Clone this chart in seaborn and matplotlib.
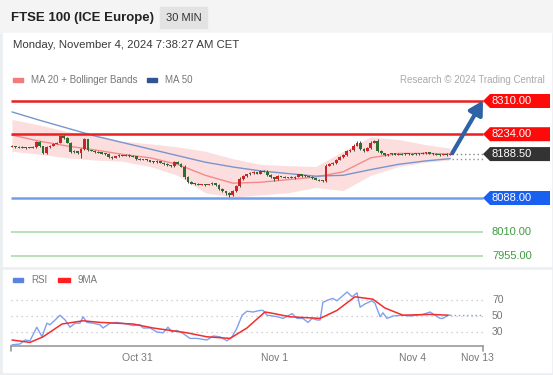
import matplotlib
matplotlib.use('Agg')
import matplotlib.pyplot as plt
from matplotlib.patches import Rectangle, Polygon
import seaborn as sns

sns.set_style('white')
plt.rcParams['font.family'] = ['Liberation Sans', 'DejaVu Sans']

# ---- data (30 min bars, Oct 30 -> Nov 4) ----
closes = [
    8207, 8205, 8204, 8204, 8203, 8204, 8205, 8216, 8206, 8191, 8204, 8208, 8212, 8215, 8230, 8226,
    8215, 8193, 8195, 8190, 8200, 8222, 8198, 8196, 8194, 8192, 8190, 8188, 8182, 8180, 8183, 8186,
    8185, 8187, 8184, 8183, 8178, 8176, 8177, 8174, 8171, 8170, 8172, 8169, 8165, 8163, 8162, 8170,
    8166, 8160, 8135, 8125, 8121, 8120, 8119, 8120, 8118, 8119, 8122, 8118, 8108, 8103, 8099, 8094,
    8104, 8115, 8132, 8138, 8142, 8145, 8147, 8144, 8150, 8148, 8141, 8136, 8131, 8138, 8137, 8135,
    8136, 8134, 8137, 8142, 8139, 8138, 8137, 8133, 8130, 8128, 8127, 8162, 8166, 8168, 8175, 8181,
    8186, 8195, 8198, 8208, 8214, 8200, 8196, 8202, 8215, 8218, 8196, 8190, 8186, 8188, 8190, 8187,
    8189, 8188, 8190, 8189, 8188, 8190, 8189, 8191, 8192, 8190, 8189, 8188, 8187, 8188, 8187, 8188.5,
]
first_open = 8206
wick_up = [
    2, 1, 1, 2, 1, 1, 2, 2, 3, 1, 2, 2, 1, 2, 3, 2,
    1, 2, 2, 1, 3, 4, 2, 1, 2, 1, 2, 1, 2, 1, 2, 2,
    1, 2, 1, 2, 1, 2, 1, 1, 2, 1, 2, 1, 1, 2, 1, 3,
    2, 1, 4, 3, 2, 1, 2, 1, 1, 2, 2, 1, 3, 2, 1, 2,
    3, 2, 3, 2, 2, 2, 3, 1, 2, 2, 3, 2, 1, 2, 1, 2,
    1, 2, 1, 2, 2, 1, 1, 2, 1, 1, 2, 3, 2, 2, 3, 2,
    2, 3, 2, 3, 4, 5, 3, 2, 3, 3, 4, 2, 2, 1, 2, 1,
    2, 1, 2, 1, 1, 2, 1, 2, 2, 1, 1, 2, 1, 1, 2, 1,
]
wick_dn = [
    1, 2, 1, 1, 2, 1, 1, 2, 2, 3, 2, 1, 2, 1, 2, 2,
    2, 3, 2, 1, 10, 2, 3, 1, 2, 1, 2, 2, 3, 2, 1, 2,
    2, 1, 2, 1, 2, 1, 2, 2, 1, 2, 1, 2, 2, 1, 2, 2,
    1, 2, 3, 3, 2, 2, 1, 2, 2, 1, 2, 3, 2, 2, 3, 4,
    2, 2, 2, 2, 1, 2, 1, 2, 2, 1, 2, 2, 3, 2, 1, 2,
    2, 1, 2, 1, 2, 1, 2, 2, 1, 2, 2, 2, 1, 2, 2, 1,
    2, 2, 1, 2, 2, 3, 2, 1, 2, 2, 3, 2, 2, 1, 2, 1,
    1, 2, 1, 2, 1, 1, 2, 1, 2, 1, 2, 1, 2, 1, 2, 1,
]

# moving averages / bands, read every 8 bars
ma_bar = [0, 8, 16, 24, 32, 40, 48, 56, 64, 72, 80, 88, 96, 104, 112, 120, 127]
ma50 = [8285, 8266, 8248, 8230, 8215, 8200, 8185, 8170, 8159, 8150, 8144, 8138, 8140, 8153, 8165, 8173, 8178]
ma20 = [8232, 8218, 8207, 8198, 8188, 8180, 8165, 8140, 8122, 8124, 8130, 8136, 8148, 8180, 8190, 8190, 8189]
bb_up = [8268, 8255, 8240, 8232, 8218, 8212, 8205, 8195, 8178, 8165, 8162, 8160, 8195, 8228, 8222, 8210, 8202]
bb_dn = [8195, 8188, 8180, 8175, 8172, 8160, 8140, 8100, 8090, 8095, 8100, 8112, 8105, 8140, 8160, 8170, 8175]

levels = [8310, 8234, 8088, 8010, 7955]
last_price = 8188.5

rsi_bar = [0, 2.3, 3.8, 5.2, 7.2, 8.7, 10.1, 11, 12.5, 13.9, 15.4, 16.8, 18.3, 19.7, 20.6, 21.7,
           23.5, 25.5, 26.4, 28.4, 30.4, 33.3, 35.1, 37.1, 38, 40, 42, 43.8, 45.2, 46.4, 47.8, 49.3,
           51.6, 53.6, 56.5, 58.3, 60.3, 62.3, 63.8, 65.2, 66.7, 68.1, 69.9, 71.9, 72.8, 73.9, 77.1,
           78.6, 81.2, 82.6, 84.3, 85.8, 87, 88.4, 89.3, 90.1, 91.6, 93, 94.2, 97.1, 98.6, 100,
           100.9, 102.3, 104.3, 105.2, 106.7, 107.5, 108.7, 110.4, 113.3, 115.4, 117.4, 119.1,
           121.2, 122.6, 124.1, 124.9, 126.4, 127]
rsi = [14, 15, 20, 19, 36, 24, 41, 39, 45, 51, 45, 36, 41, 41, 49, 42,
       41, 39, 35, 41, 42, 40, 38, 39, 35, 35, 30, 29, 36, 30, 32, 29,
       22, 22, 20, 25, 24, 19, 24, 35, 51, 56, 55, 57, 57, 51, 49,
       47, 53, 47, 47, 42, 47, 45, 45, 67, 70, 72, 69, 80, 74, 79,
       61, 65, 69, 66, 49, 54, 47, 50, 51, 50, 51, 52,
       55, 51, 47, 47, 51, 51]
ma9_bar = [0, 5.2, 9, 14.5, 20.6, 25.5, 35.1, 40.9, 50.7, 56.5, 63.2, 68.1, 73.3, 74.8, 77.1, 80.6,
           89.3, 94.2, 99.4, 104.6, 108.1, 113.3, 121.2, 126.4]
ma9 = [20, 17, 24, 40, 44, 42, 40, 35, 29, 24, 22, 35, 55, 54, 52, 49,
       47, 57, 74, 71, 60, 51, 52, 51]

date_ticks = [36.2, 76.2, 116.2, 134.8]
date_labels = ['Oct 31', 'Nov 1', 'Nov 4', 'Nov 13']
rsi_levels = [70, 50, 30]

assert len(closes) == len(wick_up) == len(wick_dn) == 128
assert len(rsi_bar) == len(rsi)

# ---- layout helpers (pixels of a 553x375 picture) ----
W, H = 553, 375
PX = 3.45          # pixels per bar
X0 = 12            # pixel of bar 0


def fx(p):
    return p / W


def fy(p):
    return 1 - p / H


def bar_at(p):
    return (p - X0) / PX


fig = plt.figure(figsize=(5.53, 3.75), dpi=100)
fig.patch.set_facecolor('#eceff2')


def fig_rect(x, y, w, h, color, z):
    # x, y = top-left corner in pixels
    fig.patches.append(Rectangle((fx(x), fy(y + h)), fx(w), h / H, transform=fig.transFigure,
                                 color=color, zorder=z))


fig_rect(0, 0, 553, 33, '#f4f4f4', -10)
fig_rect(3, 33, 548, 233, 'white', -10)
fig_rect(3, 270, 548, 102, 'white', -10)

# header
fig.text(fx(11), fy(18), 'FTSE 100 (ICE Europe)', fontsize=9.5, weight='bold', color='#222', va='center')
fig_rect(160, 7, 47, 21, '#e3e3e3', -5)
fig.text(fx(183.5), fy(18), '30 MIN', fontsize=8, color='#333', ha='center', va='center')
fig.text(fx(13), fy(45), 'Monday, November 4, 2024 7:38:27 AM CET', fontsize=8.2, color='#3a3a3a', va='center')

# legend of price panel
fig_rect(13, 78, 10, 4, '#f27b7b', 5)
fig.text(fx(31), fy(80), 'MA 20 + Bollinger Bands', fontsize=7, color='#777', va='center')
fig_rect(147, 78, 10, 4, '#2f5597', 5)
fig.text(fx(165), fy(80), 'MA 50', fontsize=7, color='#777', va='center')
fig.text(fx(545), fy(80), 'Research \u00a9 2024 Trading Central', fontsize=7, color='#aaa',
         ha='right', va='center')

# ---- price panel ----
ax = fig.add_axes([fx(10), fy(266), fx(540), fy(62) - fy(266)])
ax.set_facecolor('none')
ppx = (198 - 101) / (8310 - 8088)   # pixels per point

xs = list(range(len(closes)))
opens = [first_open] + closes[:-1]

ax.fill_between(ma_bar, bb_dn, bb_up, color='#fcdede', lw=0, zorder=1)
sns.lineplot(x=ma_bar, y=ma20, ax=ax, color='#f48a8a', lw=1, zorder=2)
sns.lineplot(x=ma_bar, y=ma50, ax=ax, color='#7896cc', lw=1, zorder=2)

min_body = 2.4
for i, o, c, wu, wd in zip(xs, opens, closes, wick_up, wick_dn):
    col = '#cf2323' if c >= o else '#2b6e2e'
    lo, hi = min(o, c), max(o, c)
    ax.vlines(i, lo - wd, hi + wu, color='#4a4a4a', lw=0.7, zorder=3)
    if hi - lo < min_body:
        mid = (hi + lo) / 2
        lo, hi = mid - min_body / 2, mid + min_body / 2
    ax.bar(i, hi - lo, bottom=lo, width=0.8, color=col, lw=0, zorder=4)

x_end = bar_at(483)
x_box0 = bar_at(490)
x_box1 = bar_at(550)
x_txt = bar_at(492)
level_colors = ['#e82020', '#e82020', '#6f9eea', '#b9dfb9', '#b9dfb9']
level_lw = [1.8, 1.8, 1.8, 1.4, 1.4]
box_colors = ['#ff0a0a', '#ff0a0a', '#1a60f0', None, None]
h = 7 / ppx
for lv, lc, lw, bc in zip(levels, level_colors, level_lw, box_colors):
    ax.plot([bar_at(10.5), x_end], [lv, lv], color=lc, lw=lw, zorder=2, solid_capstyle='butt')
    if bc:
        ax.add_patch(Polygon([(x_end, lv), (x_box0, lv + h), (x_box1, lv + h), (x_box1, lv - h),
                              (x_box0, lv - h)], closed=True, color=bc, lw=0, zorder=5))
        ax.text(x_txt, lv, f'{lv:.2f}', color='white', fontsize=8, va='center', zorder=6)
    else:
        ax.text(x_txt, lv, f'{lv:.2f}', color='#3f9c3f', fontsize=8, va='center', zorder=6)

# current price box
ax.add_patch(Polygon([(x_end, last_price), (x_box0, last_price + h), (x_box1, last_price + h),
                      (x_box1, last_price - h), (x_box0, last_price - h)], closed=True,
                     color='#333333', lw=0, zorder=5))
ax.text(x_txt, last_price, f'{last_price:.2f}', color='white', fontsize=8, va='center', zorder=6)
ax.plot([xs[-1] + 0.5, x_end], [last_price, last_price], ls=(0, (1, 2)), color='#888', lw=1, zorder=2)
ax.plot([xs[-1] + 0.5, x_end], [ma50[-1], ma50[-1]], ls=(0, (1, 2)), color='#7896cc', lw=1, zorder=2)

# forecast arrow
ax.annotate('', xy=(bar_at(483), levels[0] + 1), xytext=(xs[-1] + 0.6, last_price + 2),
            arrowprops=dict(arrowstyle='-|>,head_length=0.8,head_width=0.45', color='#2d62a6',
                            lw=3, mutation_scale=10, shrinkA=0, shrinkB=0), zorder=6)

ax.set_xlim(bar_at(10), bar_at(550))
ax.set_ylim(8310 - (266 - 101) / ppx, 8310 + (101 - 62) / ppx)
ax.axis('off')

# ---- RSI panel ----
rax = fig.add_axes([fx(10), fy(346), fx(540), fy(270) - fy(346)])
rax.set_facecolor('none')
rpx = 0.8   # pixels per RSI unit
for v in rsi_levels:
    rax.plot([bar_at(10.5), x_end], [v, v], ls=(0, (1, 3)), color='#c4c4c4', lw=0.9)
    rax.text(x_txt, v, str(v), color='#777', fontsize=7.5, va='center')

sns.lineplot(x=rsi_bar, y=rsi, ax=rax, color='#7fa0f0', lw=1)
sns.lineplot(x=ma9_bar, y=ma9, ax=rax, color='#f22d2d', lw=1.1)
rax.plot([rsi_bar[-1], x_end], [rsi[-1], rsi[-1]], ls=(0, (1, 2)), color='#7fa0f0', lw=1)

base = 50 - (346 - 316) / rpx
rax.set_xlim(bar_at(10), bar_at(550))
rax.set_ylim(base, base + (346 - 270) / rpx)
for s in ['top', 'left', 'right']:
    rax.spines[s].set_visible(False)
rax.spines['bottom'].set_bounds(bar_at(11), x_end)
rax.spines['bottom'].set_color('#9a9a9a')
rax.spines['bottom'].set_linewidth(1.2)
for e in [bar_at(11), x_end]:
    rax.plot([e, e], [base, base - 5 / rpx], color='#9a9a9a', lw=1.2, clip_on=False)
rax.set_yticks([])
rax.set_xticks(date_ticks)
rax.set_xticklabels(date_labels)
rax.tick_params(axis='x', length=0, pad=5, labelsize=7.5, labelcolor='#777')

# legend of RSI panel
fig_rect(13, 278, 10, 4, '#5b83e0', 5)
fig.text(fx(31), fy(280), 'RSI', fontsize=7, color='#777', va='center')
fig_rect(58, 278, 12, 4, '#ff1f1f', 5)
fig.text(fx(77), fy(280), '9MA', fontsize=7, color='#777', va='center')

fig.savefig('out.png', dpi=100, facecolor=fig.get_facecolor())
